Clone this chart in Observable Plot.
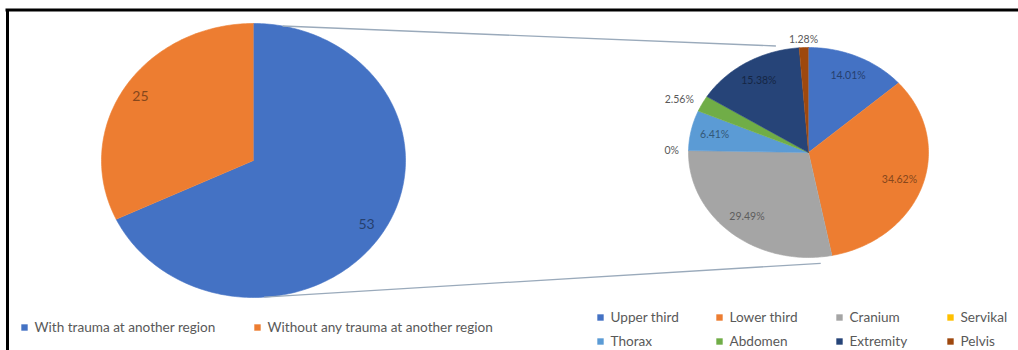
<!DOCTYPE html>
<html><head><meta charset="utf-8">
<script src="https://cdn.jsdelivr.net/npm/d3@7"></script>
<script src="https://cdn.jsdelivr.net/npm/@observablehq/plot@0.6"></script>
<style>body{margin:0;background:#fff;} #chart svg{display:block;}</style>
</head><body><div id="chart"></div>
<script>
// ---- data ----
const leftNames = ["With trauma at another region", "Without any trauma at another region"];
const leftValues = [53, 25];
const leftLabels = ["53", "25"];
const rightNames = ["Upper third", "Lower third", "Cranium", "Servikal", "Thorax", "Abdomen", "Extremity", "Pelvis"];
const rightValues = [14.01, 34.62, 29.49, 0, 6.41, 2.56, 15.38, 1.28];
const rightLabels = ["14.01%", "34.62%", "29.49%", "0%", "6.41%", "2.56%", "15.38%", "1.28%"];

// ---- style / layout ----
const leftColors = ["#4472C4", "#ED7D31"];
const rightColors = ["#4472C4", "#ED7D31", "#A5A5A5", "#FFC000", "#5B9BD5", "#70AD47", "#264478", "#9E480E"];
const W = 1018, H = 350;
const leftPie = {cx: 253, cy: 160, rx: 152, ry: 137, rin: 0.88, font: 14};
const rightPie = {cx: 808, cy: 152, rx: 120, ry: 105, rin: 0.8, font: 10.5};

function pt(p, a, r) { return {x: p.cx + p.rx * r * Math.sin(a), y: p.cy - p.ry * r * Math.cos(a)}; }

function build(names, values, labels, colors, p) {
  const arcs = d3.pie().sort(null).value(d => d)(values);
  const total = d3.sum(values);
  const poly = [], labs = [];
  arcs.forEach((arc, i) => {
    const share = values[i] / total;
    if (values[i] > 0) {
      const n = Math.max(2, Math.ceil((arc.endAngle - arc.startAngle) / (Math.PI / 180)));
      poly.push({name: names[i], x: p.cx, y: p.cy});
      for (let k = 0; k <= n; k++) {
        const a = arc.startAngle + (arc.endAngle - arc.startAngle) * k / n;
        poly.push({name: names[i], ...pt(p, a, 1)});
      }
    }
    const mid = (arc.startAngle + arc.endAngle) / 2;
    const outside = share < 0.03;
    const q = pt(p, mid, outside ? 1.08 : p.rin);
    const s = Math.sin(mid);
    labs.push({
      ...q, text: labels[i], font: p.font,
      anchor: outside ? (Math.abs(s) < 0.3 ? "middle" : (s < 0 ? "end" : "start")) : "middle",
      color: outside ? "#595959" : d3.color(colors[i]).darker(1.6).formatHex()
    });
  });
  return {poly, labs};
}

const L = build(leftNames, leftValues, leftLabels, leftColors, leftPie);
const R = build(rightNames, rightValues, rightLabels, rightColors, rightPie);

// connector lines between the two pies
const deg = Math.PI / 180;
const links = [
  {a: pt(leftPie, 11 * deg, 1.0), b: pt(rightPie, -15 * deg, 1.05)},
  {a: pt(leftPie, 176 * deg, 1.0), b: pt(rightPie, 174.5 * deg, 1.06)}
].map(d => ({x1: d.a.x, y1: d.a.y, x2: d.b.x, y2: d.b.y}));

// legends
const leftLegend = leftNames.map((name, i) => ({name, x: [24, 257][i], y: 327}));
const rightLegend = rightNames.map((name, i) => ({name, x: [600, 719, 839, 950][i % 4], y: [317, 341][Math.floor(i / 4)]}));
const legend = [...leftLegend, ...rightLegend];

const chart = Plot.plot({
  width: W, height: H, margin: 0,
  x: {domain: [0, W], range: [0, W], axis: null},
  y: {domain: [0, H], range: [0, H], axis: null},
  color: {domain: [...leftNames, ...rightNames], range: [...leftColors, ...rightColors]},
  style: {fontFamily: "Lato, 'Open Sans', sans-serif", background: "#fff"},
  marks: [
    Plot.line(L.poly, {x: "x", y: "y", z: "name", fill: "name", stroke: "name", strokeWidth: 0.6, curve: "linear"}),
    Plot.line(R.poly, {x: "x", y: "y", z: "name", fill: "name", stroke: "name", strokeWidth: 0.6, curve: "linear"}),
    Plot.link(links, {x1: "x1", y1: "y1", x2: "x2", y2: "y2", stroke: "#9aaabb", strokeWidth: 1.3}),
    ...[...L.labs, ...R.labs].map(l => Plot.text([l], {x: "x", y: "y", text: "text", fill: l.color, fontSize: l.font, textAnchor: l.anchor})),
    Plot.dot(legend, {x: "x", y: "y", symbol: "square", r: 3.6, fill: "name"}),
    Plot.text(legend, {x: d => d.x + 10, y: "y", text: "name", textAnchor: "start", fill: "#595959", fontSize: 13.6}),
    Plot.ruleX([7], {y1: 9, y2: H, stroke: "#000", strokeWidth: 3}),
    Plot.ruleY([9.5], {x1: 5.5, x2: W, stroke: "#000", strokeWidth: 3})
  ]
});
document.getElementById("chart").appendChild(chart);
</script></body></html>
